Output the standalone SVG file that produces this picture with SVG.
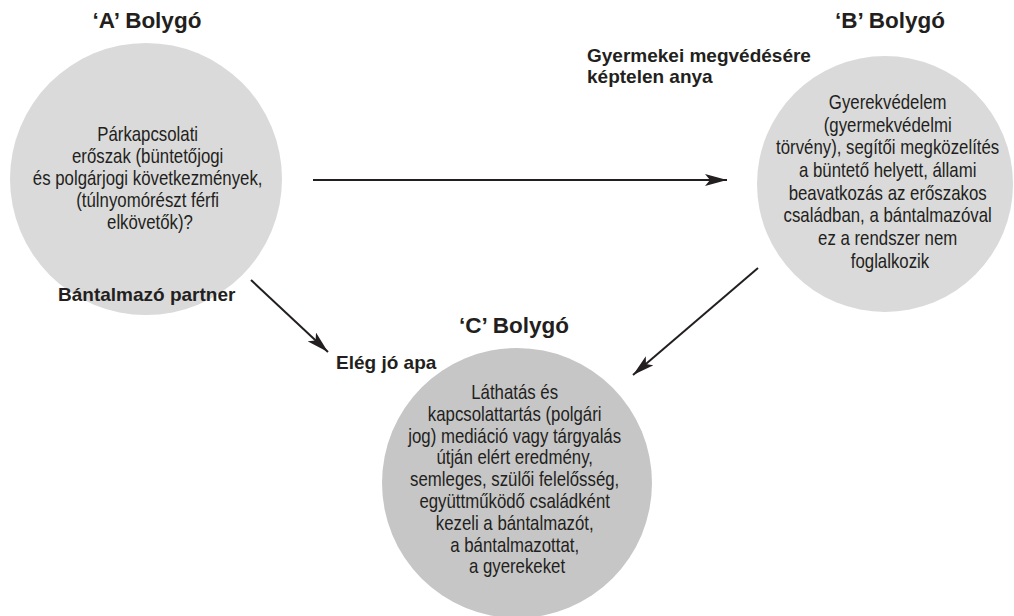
<svg xmlns="http://www.w3.org/2000/svg" width="1014" height="616" viewBox="0 0 1014 616">
<style>
.bg{fill:#ffffff}
.planet-light{fill:#dadada}
.planet-dark{fill:#c6c6c6}
.title{font-family:"Liberation Sans",Arial,sans-serif;font-weight:bold;font-size:22.5px;fill:#231f20;text-anchor:middle}
.label{font-family:"Liberation Sans",Arial,sans-serif;font-weight:bold;font-size:19px;fill:#231f20}
.body{font-family:"Liberation Sans Narrow","Liberation Sans",Arial,sans-serif;font-size:20.5px;fill:#231f20;text-anchor:middle}
.conn{stroke:#231f20;stroke-width:2;fill:none;marker-end:url(#arrow)}
</style>
<defs>
<marker id="arrow" markerUnits="userSpaceOnUse" viewBox="0 0 22 12" refX="22" refY="6" markerWidth="22" markerHeight="12" orient="auto">
<path d="M0,0 L22,6 L0,12 L5,6 Z" fill="#231f20"/>
</marker>
</defs>
<rect class="bg" x="0" y="0" width="1014" height="616"/>

<g id="planet-a">
<circle class="planet-light" cx="146" cy="179" r="136"/>
<text class="title" x="147" y="28">‘A’ Bolygó</text>
<text class="body" transform="translate(150 0) scale(0.82 1)">
<tspan x="0" y="141">Párkapcsolati</tspan>
<tspan x="0" y="163">erőszak (büntetőjogi</tspan>
<tspan x="0" y="185">és polgárjogi következmények,</tspan>
<tspan x="0" y="207">(túlnyomórészt férfi</tspan>
<tspan x="0" y="229">elkövetők)?</tspan>
</text>
<text class="label" x="58" y="301">Bántalmazó partner</text>
</g>

<g id="planet-b">
<circle class="planet-light" cx="885" cy="184" r="128"/>
<text class="title" x="890" y="28">‘B’ Bolygó</text>
<text class="label" x="587" y="62">Gyermekei megvédésére</text>
<text class="label" x="587" y="83">képtelen anya</text>
<text class="body" transform="translate(890 0) scale(0.82 1)">
<tspan x="0" y="109">Gyerekvédelem</tspan>
<tspan x="0" y="131.7">(gyermekvédelmi</tspan>
<tspan x="0" y="154.4">törvény), segítői megközelítés</tspan>
<tspan x="0" y="177.1">a büntető helyett, állami</tspan>
<tspan x="0" y="199.8">beavatkozás az erőszakos</tspan>
<tspan x="0" y="222.5">családban, a bántalmazóval</tspan>
<tspan x="0" y="245.2">ez a rendszer nem</tspan>
<tspan x="0" y="268">foglalkozik</tspan>
</text>
</g>

<g id="planet-c">
<circle class="planet-dark" cx="517" cy="483" r="135"/>
<text class="title" x="514" y="333">‘C’ Bolygó</text>
<text class="label" x="336" y="369">Elég jó apa</text>
<text class="body" transform="translate(517 0) scale(0.82 1)">
<tspan x="0" y="399">Láthatás és</tspan>
<tspan x="0" y="420.8">kapcsolattartás (polgári</tspan>
<tspan x="0" y="442.6">jog) mediáció vagy tárgyalás</tspan>
<tspan x="0" y="464.4">útján elért eredmény,</tspan>
<tspan x="0" y="486.2">semleges, szülői felelősség,</tspan>
<tspan x="0" y="508">együttműködő családként</tspan>
<tspan x="0" y="529.8">kezeli a bántalmazót,</tspan>
<tspan x="0" y="551.6">a bántalmazottat,</tspan>
<tspan x="0" y="573.4">a gyerekeket</tspan>
</text>
</g>

<g id="connectors">
<line class="conn" x1="313" y1="180" x2="727" y2="180"/>
<line class="conn" x1="251" y1="280" x2="328" y2="352"/>
<line class="conn" x1="758" y1="268" x2="633" y2="375"/>
</g>
</svg>
